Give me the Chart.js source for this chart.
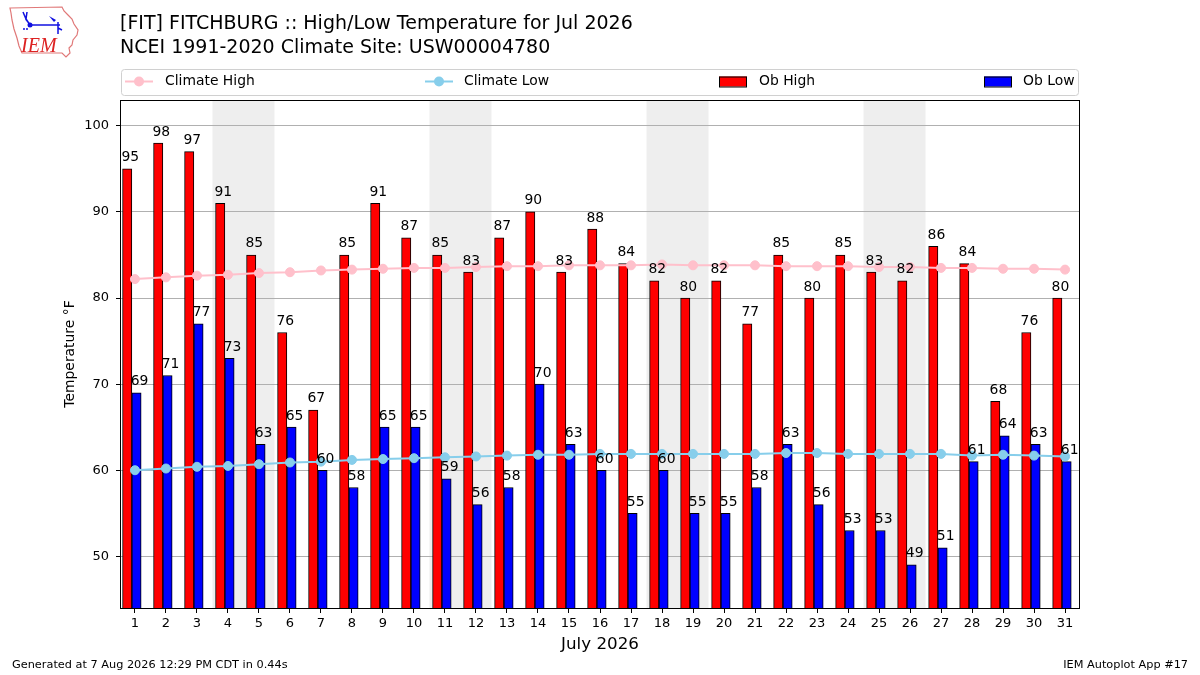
<!DOCTYPE html>
<html><head><meta charset="utf-8">
<script src="https://cdn.jsdelivr.net/npm/chart.js@4.4.0/dist/chart.umd.min.js"></script>
<style>html,body{margin:0;padding:0;background:#fff}#wrap{width:1200px;height:675px;position:relative}</style>
</head><body><div id="wrap"><canvas id="c" width="1200" height="675"></canvas></div>
<script>
const days = [1,2,3,4,5,6,7,8,9,10,11,12,13,14,15,16,17,18,19,20,21,22,23,24,25,26,27,28,29,30,31];
const obHigh = [95,98,97,91,85,76,67,85,91,87,85,83,87,90,83,88,84,82,80,82,77,85,80,85,83,82,86,84,68,76,80];
const obLow = [69,71,77,73,63,65,60,58,65,65,59,56,58,70,63,60,55,60,55,55,58,63,56,53,53,49,51,61,64,63,61];
const climHigh = [82.2,82.4,82.6,82.7,82.9,83.0,83.2,83.3,83.4,83.5,83.5,83.6,83.7,83.7,83.8,83.8,83.8,83.9,83.8,83.8,83.8,83.7,83.7,83.7,83.6,83.6,83.5,83.5,83.4,83.4,83.3];
const climLow = [60.0,60.2,60.4,60.5,60.7,60.9,61.0,61.2,61.3,61.4,61.5,61.6,61.7,61.8,61.8,61.9,61.9,61.9,61.9,61.9,61.9,62.0,62.0,61.9,61.9,61.9,61.9,61.7,61.8,61.7,61.6];
const weekendStarts = [4,11,18,25];
const yTicks = [50,60,70,80,90,100];
const titleLine1 = '[FIT] FITCHBURG :: High/Low Temperature for Jul 2026';
const titleLine2 = 'NCEI 1991-2020 Climate Site: USW00004780';
const xTitle = 'July 2026';
const yTitle = 'Temperature °F';
const footerLeft = 'Generated at 7 Aug 2026 12:29 PM CDT in 0.44s';
const footerRight = 'IEM Autoplot App #17';

const FONT = '"DejaVu Sans", sans-serif';
Chart.defaults.color = '#000';
Chart.defaults.font.family = FONT;

function drawLogo(ctx){
  ctx.save();
  ctx.strokeStyle = '#e07878'; ctx.lineWidth = 1.2;
  const pts = [[10,8],[62,7],[64,11],[68,15],[72,19],[74,24],[78,30],[77,35],[73,40],[72,45],[69,48],[70,53],[66,57],[62,53],[22,53],[19,46],[17,38],[14,29],[12,20],[11,13]];
  ctx.beginPath(); pts.forEach((p,i)=> i?ctx.lineTo(p[0],p[1]):ctx.moveTo(p[0],p[1])); ctx.closePath(); ctx.stroke();
  ctx.strokeStyle = '#1010e0'; ctx.fillStyle = '#1010e0'; ctx.lineWidth = 1.5;
  ctx.beginPath(); ctx.moveTo(30,25); ctx.lineTo(60,25); ctx.stroke();
  ctx.beginPath(); ctx.arc(30,25,2.5,0,Math.PI*2); ctx.fill();
  ctx.beginPath(); ctx.moveTo(23,12); ctx.lineTo(26,19); ctx.lineTo(27,12); ctx.stroke();
  ctx.beginPath(); ctx.moveTo(26,19); ctx.lineTo(30,25); ctx.stroke();
  ctx.beginPath(); ctx.moveTo(49,16); ctx.lineTo(56,20); ctx.lineTo(54,22); ctx.closePath(); ctx.fill();
  ctx.beginPath(); ctx.moveTo(58,22); ctx.lineTo(58,34); ctx.moveTo(58,28); ctx.lineTo(62,30); ctx.stroke();
  ctx.beginPath(); ctx.arc(24,29,1,0,Math.PI*2); ctx.arc(27,29,1,0,Math.PI*2); ctx.fill();
  ctx.fillStyle = '#dd2222'; ctx.font = 'italic 20px "Liberation Serif", serif'; ctx.textBaseline = 'alphabetic';
  ctx.fillText('IEM', 21, 52);
  ctx.restore();
}

const decor = {
  id: 'decor',
  beforeDraw(chart){
    const {ctx, chartArea: a, scales: {x}} = chart;
    ctx.save();
    ctx.fillStyle = '#fff'; ctx.fillRect(0,0,chart.width,chart.height);
    ctx.fillStyle = '#eeeeee';
    weekendStarts.forEach(d => {
      const x0 = x.getPixelForValue(d-0.5), x1 = x.getPixelForValue(d+1.5);
      ctx.fillRect(x0, a.top, x1-x0, a.bottom-a.top);
    });
    ctx.restore();
  },
  afterDatasetsDraw(chart){
    const ctx = chart.ctx, xs = chart.scales.x;
    ctx.save();
    ctx.fillStyle = '#000'; ctx.font = '13.9px ' + FONT; ctx.textAlign = 'center'; ctx.textBaseline = 'alphabetic';
    [0,1].forEach(di => {
      const meta = chart.getDatasetMeta(di);
      const vals = chart.data.datasets[di].data;
      meta.data.forEach((bar,i) => { ctx.fillText(String(vals[i].y), xs.getPixelForValue(vals[i].x + 0.1), bar.y - 7.5); });
    });
    ctx.restore();
  },
  afterDraw(chart){
    const {ctx, chartArea: a} = chart;
    ctx.save();
    ctx.strokeStyle = '#000'; ctx.lineWidth = 1;
    ctx.strokeRect(Math.round(a.left)-0.5, Math.round(a.top)+0.5, Math.round(a.right-a.left)+1, Math.round(a.bottom-a.top));
    // titles
    ctx.fillStyle = '#000'; ctx.textAlign = 'left'; ctx.textBaseline = 'middle';
    ctx.font = '19px ' + FONT;
    ctx.fillText(titleLine1, 120, 24);
    ctx.fillText(titleLine2, 120, 48);
    // axis titles
    ctx.textAlign = 'center';
    ctx.font = '16.7px ' + FONT;
    ctx.fillText(xTitle, (a.left+a.right)/2, 645);
    ctx.save();
    ctx.translate(70, (a.top+a.bottom)/2); ctx.rotate(-Math.PI/2);
    ctx.font = '13.9px ' + FONT; ctx.fillText(yTitle, 0, 0);
    ctx.restore();
    // footer
    ctx.font = '11.3px ' + FONT; ctx.textAlign = 'left';
    ctx.fillText(footerLeft, 12, 665);
    ctx.textAlign = 'right';
    ctx.fillText(footerRight, 1188, 665);
    // legend
    const ly = 81.5;
    ctx.beginPath();
    ctx.roundRect(a.left+0.5, 69.5, a.right-a.left-1, 26, 3);
    ctx.fillStyle = 'rgba(255,255,255,0.8)'; ctx.fill();
    ctx.strokeStyle = '#d0d0d0'; ctx.stroke();
    const ds = chart.data.datasets;
    const lineItem = (x0, d) => {
      ctx.strokeStyle = d.borderColor; ctx.lineWidth = 2;
      ctx.beginPath(); ctx.moveTo(x0, ly); ctx.lineTo(x0+28, ly); ctx.stroke();
      ctx.fillStyle = d.pointBackgroundColor; ctx.beginPath(); ctx.arc(x0+14, ly, 5, 0, Math.PI*2); ctx.fill();
    };
    const boxItem = (x0, d) => {
      ctx.fillStyle = d.backgroundColor; ctx.fillRect(x0, ly-5, 28, 10);
      ctx.strokeStyle = '#000'; ctx.lineWidth = 1; ctx.strokeRect(x0+0.5, ly-4.5, 27, 10);
    };
    lineItem(125, ds[2]); lineItem(425, ds[3]);
    boxItem(719, ds[0]); boxItem(984, ds[1]);
    ctx.fillStyle = '#000'; ctx.textAlign = 'left'; ctx.textBaseline = 'middle'; ctx.font = '13.9px ' + FONT;
    ctx.fillText(ds[2].label, 165, ly);
    ctx.fillText(ds[3].label, 464, ly);
    ctx.fillText(ds[0].label, 759, ly);
    ctx.fillText(ds[1].label, 1023, ly);
    drawLogo(ctx);
    ctx.restore();
  }
};

new Chart(document.getElementById('c'), {
  type: 'bar',
  data: {
    datasets: [
      { type:'bar', label:'Ob High', data: days.map((d,i)=>({x:d-0.25, y:obHigh[i]})), backgroundColor:'#ff0000', borderColor:'#000', borderWidth:1, borderSkipped:false, grouped:false, categoryPercentage:1, barPercentage:1, order:2 },
      { type:'bar', label:'Ob Low', data: days.map((d,i)=>({x:d+0.05, y:obLow[i]})), backgroundColor:'#0000ff', borderColor:'#000', borderWidth:1, borderSkipped:false, grouped:false, categoryPercentage:1, barPercentage:1, order:2 },
      { type:'line', label:'Climate High', data: days.map((d,i)=>({x:d, y:climHigh[i]})), borderColor:'#ffc0cb', backgroundColor:'#ffc0cb', pointBackgroundColor:'#ffc0cb', pointBorderColor:'#ffc0cb', borderWidth:2, pointRadius:4.5, pointBorderWidth:1, order:0 },
      { type:'line', label:'Climate Low', data: days.map((d,i)=>({x:d, y:climLow[i]})), borderColor:'#87ceeb', backgroundColor:'#87ceeb', pointBackgroundColor:'#87ceeb', pointBorderColor:'#87ceeb', borderWidth:2, pointRadius:4.5, pointBorderWidth:1, order:0 }
    ]
  },
  options: {
    responsive: false, animation: false, devicePixelRatio: 1,
    layout: { padding: { left: 60, right: 121, top: 100, bottom: 0 } },
    plugins: { legend: { display:false }, tooltip: { enabled:false } },
    scales: {
      x: {
        type:'linear', min:0.55, max:31.45, offset:false,
        afterBuildTicks: s => { s.ticks = days.map(v=>({value:v})); },
        afterFit: s => { s.height = 67; },
        grid: { display:true, drawOnChartArea:false, drawTicks:true, tickLength:5, tickColor:'#000', offset:false },
        border: { display:false },
        ticks: { autoSkip:false, maxRotation:0, padding:3, font:{size:13, family:FONT}, color:'#000', callback: v => String(v) }
      },
      y: {
        type:'linear', min:44, max:103,
        afterBuildTicks: s => { s.ticks = yTicks.map(v=>({value:v})); },
        afterFit: s => { s.width = 61; },
        grid: { color:'#b0b0b0', lineWidth:1, drawTicks:true, tickLength:5, tickColor:'#000' },
        border: { display:false },
        ticks: { padding:7, font:{size:13, family:FONT}, color:'#000' }
      }
    }
  },
  plugins: [decor]
});
</script>
</body></html>
